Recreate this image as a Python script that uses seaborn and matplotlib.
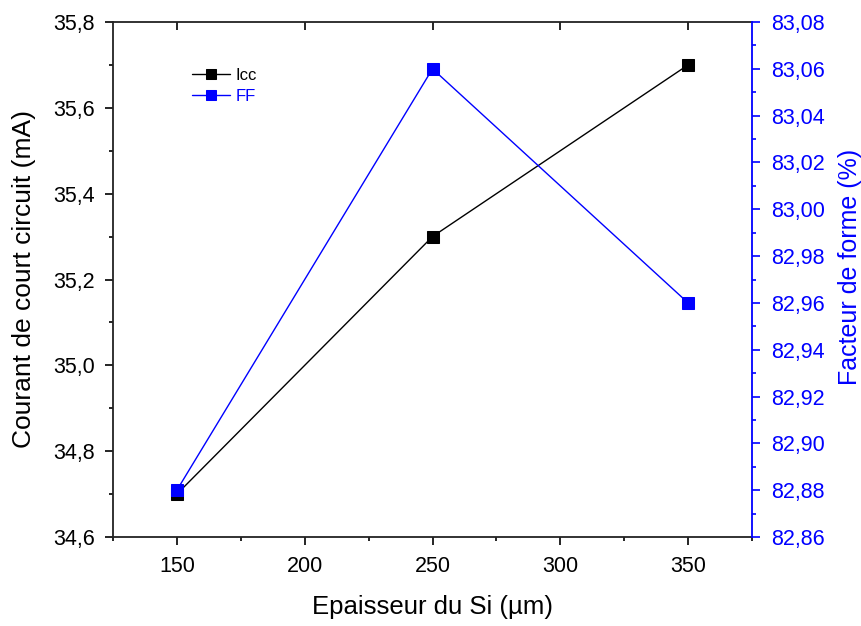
import matplotlib
matplotlib.use("Agg")
import matplotlib.pyplot as plt
from matplotlib.ticker import MultipleLocator, FuncFormatter
import seaborn as sns
import pandas as pd

sns.set_style("ticks")
plt.rcParams["font.family"] = ["Liberation Sans", "DejaVu Sans"]
plt.rcParams["text.color"] = "black"
plt.rcParams["axes.labelcolor"] = "black"
plt.rcParams["xtick.color"] = "black"
plt.rcParams["ytick.color"] = "black"

epaisseur = [150, 250, 350]
icc = [34.70, 35.30, 35.70]
ff = [82.88, 83.06, 82.96]

df = pd.DataFrame({"epaisseur": epaisseur, "Icc": icc, "FF": ff})

BLUE = "#0000FF"
W, H = 861, 626
L, R, T, B = 113, 752, 22, 537

fig = plt.figure(figsize=(W / 100, H / 100), dpi=100)
ax = fig.add_axes([L / W, 1 - B / H, (R - L) / W, (B - T) / H])
ax2 = ax.twinx()

comma = FuncFormatter(lambda v, p: f"{v:.1f}".replace(".", ","))
comma2 = FuncFormatter(lambda v, p: f"{v:.2f}".replace(".", ","))

sns.lineplot(data=df, x="epaisseur", y="Icc", ax=ax, color="black", marker="s",
             markersize=8, markeredgecolor="black", linewidth=1, label="Icc", legend=False)
sns.lineplot(data=df, x="epaisseur", y="FF", ax=ax2, color=BLUE, marker="s",
             markersize=8, markeredgecolor=BLUE, linewidth=1, label="FF", legend=False)

ax.set_xlim(125, 375)
ax.set_ylim(34.6, 35.8)
ax2.set_ylim(82.86, 83.08)

ax.xaxis.set_major_locator(MultipleLocator(50))
ax.xaxis.set_minor_locator(MultipleLocator(25))
ax.yaxis.set_major_locator(MultipleLocator(0.2))
ax.yaxis.set_minor_locator(MultipleLocator(0.1))
ax.yaxis.set_major_formatter(comma)
ax2.yaxis.set_major_locator(MultipleLocator(0.02))
ax2.yaxis.set_minor_locator(MultipleLocator(0.01))
ax2.yaxis.set_major_formatter(comma2)

TICK_FS = 15.5
ax.tick_params(axis="x", which="major", direction="out", length=6, width=1.2,
               labelsize=TICK_FS, pad=8, top=True)
ax.tick_params(axis="x", which="minor", direction="out", length=3, width=1.2, top=False)
for t in ax.xaxis.get_major_ticks():
    t.tick2line.set_marker(3)
ax.tick_params(axis="y", which="major", direction="out", length=6, width=1.2,
               labelsize=TICK_FS, pad=7)
ax.tick_params(axis="y", which="minor", direction="out", length=3, width=1.2)

ax2.tick_params(axis="y", which="major", direction="out", length=6, width=1.2,
                labelsize=TICK_FS, colors=BLUE, pad=8)
ax2.tick_params(axis="y", which="minor", direction="out", length=3, width=1.2, colors=BLUE)

for s in ["left", "bottom", "top"]:
    ax.spines[s].set_linewidth(1.3)
    ax.spines[s].set_color("#222222")
ax.spines["right"].set_visible(False)
ax2.spines["right"].set_color(BLUE)
ax2.spines["right"].set_linewidth(1.3)
for s in ["left", "bottom", "top"]:
    ax2.spines[s].set_visible(False)

ax.set_xlabel("Epaisseur du Si (µm)", fontsize=18.5)
ax.set_ylabel("Courant de court circuit (mA)", fontsize=19)
ax2.set_ylabel("Facteur de forme (%)", fontsize=18, color=BLUE)

ax.xaxis.set_label_coords((432 - L) / (R - L), (B - 607) / (B - T))
ax.xaxis.label.set_va("center")
ax.yaxis.set_label_coords((24 - L) / (R - L), 0.5)
ax.yaxis.label.set_va("center")
ax2.yaxis.set_label_coords((850 - L) / (R - L), (B - 267) / (B - T))
ax2.yaxis.label.set_va("center")

h1, l1 = ax.get_legend_handles_labels()
h2, l2 = ax2.get_legend_handles_labels()
leg = ax.legend(h1 + h2, l1 + l2, loc="upper left", bbox_to_anchor=(0.1, 0.94),
                frameon=False, fontsize=12, handlelength=2.3, handletextpad=0.3,
                labelspacing=0.35, markerscale=0.85)
for txt, c in zip(leg.get_texts(), ["black", BLUE]):
    txt.set_color(c)

fig.savefig("out.png", dpi=100)
